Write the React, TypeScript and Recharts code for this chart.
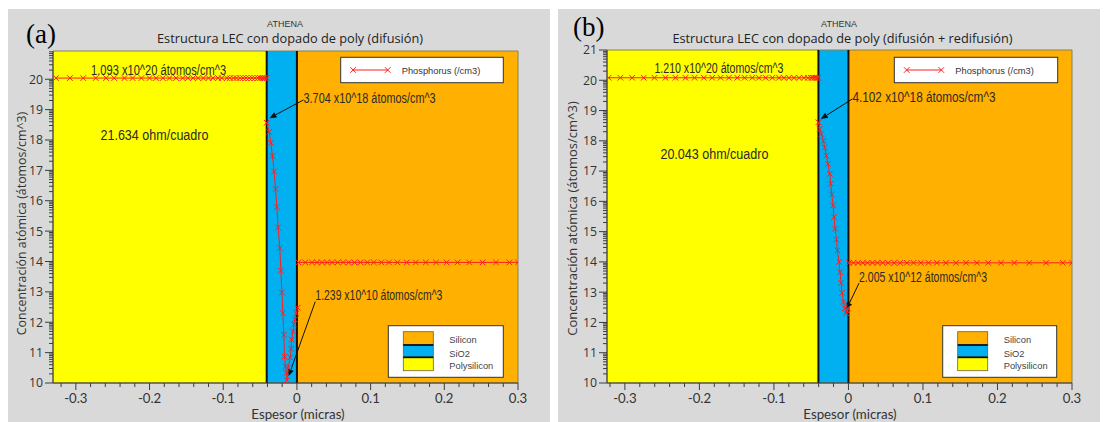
import React from 'react';
import { LineChart, Line, XAxis, YAxis, ReferenceArea, ReferenceLine, ReferenceDot } from 'recharts';

// ---- colours -------------------------------------------------------------
const POLY_COLOR = '#ffff00';
const OXIDE_COLOR = '#00b0f0';
const SILICON_COLOR = '#ffb000';
const DOPANT_COLOR = '#ff1f1f';
const PANEL_BG = '#d9d9d9';
const AXIS_COLOR = '#3c3c3c';
const TEXT_COLOR = '#2a2a2a';

// ---- axis ticks (depth in microns / log10 of concentration) ---------------
const X_MAJOR = [-0.3, -0.2, -0.1, 0, 0.1, 0.2, 0.3];
const X_TICKS = [
  -0.32, -0.3, -0.28, -0.26, -0.24, -0.22, -0.2, -0.18, -0.16, -0.14, -0.12, -0.1, -0.08, -0.06,
  -0.04, -0.02, 0, 0.02, 0.04, 0.06, 0.08, 0.1, 0.12, 0.14, 0.16, 0.18, 0.2, 0.22, 0.24, 0.26, 0.28, 0.3,
];
const Y_MAJOR = [10, 11, 12, 13, 14, 15, 16, 17, 18, 19, 20, 21];
const Y_MINOR_MULTIPLIERS = [2, 3, 4, 5, 6, 7, 8, 9];

// ---- material boundaries (microns) ---------------------------------------
const A_OXIDE_START = -0.041;
const B_OXIDE_START = -0.0403;
const INTERFACE = 0;

// ---- panel (a): difusión -------------------------------------------------
const A_POLY_CONC = 1.093e20;
const A_OXIDE_TOP = 3.704e18;
const A_OXIDE_MIN = 1.239e10;
const A_SHEET = '21.634 ohm/cuadro';

const A_POLY_X = [
  -0.327, -0.308, -0.29, -0.273, -0.259, -0.248, -0.234, -0.223, -0.211, -0.2, -0.191, -0.182, -0.173,
  -0.164, -0.155, -0.148, -0.141, -0.134, -0.127, -0.12, -0.114, -0.107, -0.102, -0.095, -0.091, -0.086,
  -0.082, -0.077, -0.073, -0.069, -0.065, -0.061, -0.057, -0.053, -0.05, -0.047, -0.045, -0.043, -0.041,
];
const A_OXIDE_X = [
  -0.041, -0.0377, -0.0354, -0.0332, -0.031, -0.029, -0.0272, -0.0255, -0.0232, -0.0218, -0.0204, -0.019,
  -0.0177, -0.0169, -0.0155, -0.0142, -0.0136, -0.0119, -0.0091, -0.0078, -0.0071, -0.0054, -0.0044, -0.003,
  -0.001, 0.001,
];
const A_OXIDE_LOG = [
  Math.log10(A_OXIDE_TOP), 18.26, 17.91, 17.48, 16.96, 16.39, 15.79, 15.12, 14.44, 13.7, 12.98, 12.3,
  11.59, 10.87, 10.55, 10.33, Math.log10(A_OXIDE_MIN), 10.51, 10.84, 11.13, 11.43, 11.7, 11.93, 12.09,
  12.29, 12.48,
];
const A_SI_X = [
  0.002, 0.0113, 0.0204, 0.0272, 0.034, 0.0409, 0.0477, 0.0553, 0.0627, 0.0703, 0.0781, 0.0862, 0.0954,
  0.1044, 0.1145, 0.1249, 0.1363, 0.149, 0.1613, 0.1749, 0.1886, 0.203, 0.218, 0.2338, 0.252, 0.2701,
  0.2883, 0.3,
];
const A_SI_LOG = 13.97;

// ---- panel (b): difusión + redifusión ------------------------------------
const B_POLY_CONC = 1.21e20;
const B_OXIDE_TOP = 4.102e18;
const B_OXIDE_MIN = 2.005e12;
const B_SHEET = '20.043 ohm/cuadro';

const B_POLY_X = [
  -0.3218, -0.306, -0.2903, -0.2747, -0.2603, -0.2456, -0.2321, -0.2187, -0.2065, -0.194, -0.1828,
  -0.1716, -0.1604, -0.1492, -0.1393, -0.129, -0.1201, -0.1111, -0.1021, -0.0932, -0.0865, -0.0798,
  -0.073, -0.0663, -0.0596, -0.0542, -0.0505, -0.0484, -0.0462, -0.0439, -0.042, -0.0403,
];
const B_OXIDE_X = [
  -0.0403, -0.0386, -0.0363, -0.0336, -0.0319, -0.0296, -0.0274, -0.0251, -0.0238, -0.0224, -0.0207,
  -0.0194, -0.018, -0.0161, -0.0148, -0.0126, -0.0113, -0.0099, -0.0086, -0.0067, -0.005, -0.003,
  -0.0018, -0.0008,
];
const B_OXIDE_LOG = [
  Math.log10(B_OXIDE_TOP), 18.39, 18.22, 18.0, 17.78, 17.51, 17.24, 16.91, 16.58, 16.23, 15.87, 15.48,
  15.1, 14.74, 14.38, 14.0, 13.66, 13.31, 12.98, 12.68, 12.47, Math.log10(B_OXIDE_MIN), 12.38, 12.47,
];
const B_SI_X = [
  0.0008, 0.0067, 0.0129, 0.0192, 0.0255, 0.0323, 0.039, 0.0457, 0.0532, 0.0613, 0.0694, 0.0784, 0.0874,
  0.0972, 0.1075, 0.1187, 0.1308, 0.1442, 0.1577, 0.1724, 0.1876, 0.2047, 0.2226, 0.2427, 0.2652, 0.2876,
  0.3,
];
const B_SI_LOG = 13.97;

// ---- helpers -------------------------------------------------------------
type Pt = { x: number; y: number };
const toPoints = (xs: number[], ys: number[] | number): Pt[] =>
  xs.map((x, i) => ({ x, y: Array.isArray(ys) ? ys[i] : ys }));

const concLabel = (v: number) => {
  const exp = Math.floor(Math.log10(v));
  const mant = v / Math.pow(10, exp);
  return `${mant.toFixed(3)} x10^${exp} átomos/cm^3`;
};

const yTicksFor = (top: number) => {
  const out: number[] = [];
  Y_MAJOR.forEach((d) => {
    if (d <= top + 1e-9) out.push(d);
    Y_MINOR_MULTIPLIERS.forEach((k) => {
      const v = d + Math.log10(k);
      if (v < top) out.push(v);
    });
  });
  return out.sort((a, b) => a - b);
};

const crossDot = (p: any) => {
  const { cx, cy, index } = p;
  if (cx == null || cy == null) return <g key={`m${index}`} />;
  const s = 2.8;
  return (
    <path
      key={`m${index}`}
      d={`M${cx - s},${cy - s}L${cx + s},${cy + s}M${cx - s},${cy + s}L${cx + s},${cy - s}`}
      stroke={DOPANT_COLOR}
      strokeWidth={1}
      fill="none"
    />
  );
};

const arrowShape = (p: any) => {
  const { x1, y1, x2, y2 } = p;
  const ang = Math.atan2(y2 - y1, x2 - x1);
  const L = 7;
  const W = 3;
  const bx = x2 - L * Math.cos(ang);
  const by = y2 - L * Math.sin(ang);
  const pts = `${x2},${y2} ${bx - W * Math.sin(ang)},${by + W * Math.cos(ang)} ${bx + W * Math.sin(ang)},${by - W * Math.cos(ang)}`;
  return (
    <g>
      <line x1={x1} y1={y1} x2={bx} y2={by} stroke="#111" strokeWidth={1} />
      <polygon points={pts} fill="#111" />
    </g>
  );
};

const noteShape = (text: string, len: number) => (p: any) => (
  <text
    x={p.cx}
    y={p.cy}
    dy={5}
    fontFamily="'Liberation Sans', Arial, sans-serif"
    fontSize={14}
    fill={TEXT_COLOR}
    textLength={len}
    lengthAdjust="spacingAndGlyphs"
  >
    {text}
  </text>
);

const xTick = (p: any) => {
  const v = p.payload.value;
  const major = X_MAJOR.some((m) => Math.abs(m - v) < 1e-9);
  return (
    <g>
      <line x1={p.x} x2={p.x} y1={p.y} y2={p.y + (major ? 7 : 4)} stroke={AXIS_COLOR} />
      {major && (
        <text x={p.x} y={p.y + 20} textAnchor="middle" fontFamily="Lato, sans-serif" fontSize={13.2} fill="#333">
          {String(v)}
        </text>
      )}
    </g>
  );
};

const yTick = (p: any) => {
  const v = p.payload.value;
  const major = Math.abs(v - Math.round(v)) < 1e-9;
  return (
    <g>
      <line x1={p.x} x2={p.x - (major ? 8 : 4)} y1={p.y} y2={p.y} stroke={AXIS_COLOR} />
      {major && (
        <text x={p.x - 10} y={p.y} dy={4.4} textAnchor="end" fontFamily="'Open Sans', sans-serif" fontSize={12.3} fill="#333">
          {String(Math.round(v))}
        </text>
      )}
    </g>
  );
};

type Note = { x: number; y: number; text: string; len: number };
type Arrow = { from: Pt; to: Pt };

type PanelCfg = {
  left: number;
  width: number;
  top: number;
  right: number;
  yAxisWidth: number;
  xDomain: [number, number];
  yDomain: [number, number];
  oxideStart: number;
  poly: Pt[];
  oxide: Pt[];
  silicon: Pt[];
  notes: Note[];
  arrows: Arrow[];
};

function ProfilePanel({ cfg }: { cfg: PanelCfg }) {
  const [x0, x1] = cfg.xDomain;
  return (
    <div style={{ position: 'absolute', left: cfg.left, top: 0 }}>
      <LineChart width={cfg.width} height={422} margin={{ top: cfg.top, right: cfg.right, bottom: 9, left: 0 }}>
        <XAxis
          type="number"
          dataKey="x"
          domain={cfg.xDomain}
          allowDataOverflow
          ticks={X_TICKS}
          interval={0}
          tickLine={false}
          tickSize={0}
          tickMargin={0}
          axisLine={{ stroke: AXIS_COLOR }}
          tick={xTick}
          height={30}
        />
        <YAxis
          type="number"
          dataKey="y"
          domain={cfg.yDomain}
          allowDataOverflow
          ticks={yTicksFor(cfg.yDomain[1])}
          interval={0}
          tickLine={false}
          tickSize={0}
          tickMargin={0}
          axisLine={{ stroke: AXIS_COLOR }}
          tick={yTick}
          width={cfg.yAxisWidth}
        />
        <ReferenceArea x1={x0} x2={cfg.oxideStart} fill={POLY_COLOR} fillOpacity={1} stroke="none" />
        <ReferenceArea x1={cfg.oxideStart} x2={INTERFACE} fill={OXIDE_COLOR} fillOpacity={1} stroke="none" />
        <ReferenceArea x1={INTERFACE} x2={x1} fill={SILICON_COLOR} fillOpacity={1} stroke="none" />
        <ReferenceArea x1={x0} x2={x1} fill="none" fillOpacity={0} stroke="#8a8050" strokeWidth={1} />
        <ReferenceLine x={cfg.oxideStart} stroke="#111" strokeWidth={2} />
        <ReferenceLine x={INTERFACE} stroke="#111" strokeWidth={2} />
        <Line data={cfg.poly} dataKey="y" stroke={DOPANT_COLOR} strokeWidth={1} dot={crossDot} isAnimationActive={false} />
        <Line data={cfg.oxide} dataKey="y" stroke={DOPANT_COLOR} strokeWidth={1} dot={crossDot} isAnimationActive={false} />
        <Line data={cfg.silicon} dataKey="y" stroke={DOPANT_COLOR} strokeWidth={1} dot={crossDot} isAnimationActive={false} />
        {cfg.arrows.map((a, i) => (
          <ReferenceLine key={`a${i}`} segment={[a.from, a.to]} shape={arrowShape} />
        ))}
        {cfg.notes.map((n, i) => (
          <ReferenceDot key={`n${i}`} x={n.x} y={n.y} r={0} shape={noteShape(n.text, n.len)} />
        ))}
      </LineChart>
    </div>
  );
}

const PANEL_A: PanelCfg = {
  left: 0,
  width: 552,
  top: 51,
  right: 34,
  yAxisWidth: 53,
  xDomain: [-0.331, 0.3],
  yDomain: [10, 20.93],
  oxideStart: A_OXIDE_START,
  poly: toPoints(A_POLY_X, Math.log10(A_POLY_CONC)),
  oxide: toPoints(A_OXIDE_X, A_OXIDE_LOG),
  silicon: toPoints(A_SI_X, A_SI_LOG),
  notes: [
    { x: -0.2793, y: 20.31, text: concLabel(A_POLY_CONC), len: 135 },
    { x: -0.2666, y: 18.17, text: A_SHEET, len: 108 },
    { x: 0.009, y: 19.385, text: concLabel(A_OXIDE_TOP), len: 132 },
    { x: 0.025, y: 12.905, text: concLabel(A_OXIDE_MIN), len: 127 },
  ],
  arrows: [
    { from: { x: 0.009, y: 19.32 }, to: { x: -0.0373, y: 18.72 } },
    { from: { x: 0.0249, y: 12.68 }, to: { x: -0.0114, y: 10.22 } },
  ],
};

const PANEL_B: PanelCfg = {
  left: 552,
  width: 548,
  top: 50,
  right: 28,
  yAxisWidth: 55,
  xDomain: [-0.324, 0.3],
  yDomain: [10, 21],
  oxideStart: B_OXIDE_START,
  poly: toPoints(B_POLY_X, Math.log10(B_POLY_CONC)),
  oxide: toPoints(B_OXIDE_X, B_OXIDE_LOG),
  silicon: toPoints(B_SI_X, B_SI_LOG),
  notes: [
    { x: -0.2604, y: 20.414, text: concLabel(B_POLY_CONC), len: 129 },
    { x: -0.2523, y: 17.576, text: B_SHEET, len: 108 },
    { x: 0.0054, y: 19.451, text: concLabel(B_OXIDE_TOP), len: 143 },
    { x: 0.0142, y: 13.507, text: concLabel(B_OXIDE_MIN), len: 128 },
  ],
  arrows: [
    { from: { x: 0.0054, y: 19.385 }, to: { x: -0.0372, y: 18.72 } },
    { from: { x: 0.0142, y: 13.3 }, to: { x: -0.0027, y: 12.43 } },
  ],
};

const SANS = "'Liberation Sans', Arial, sans-serif";
const OPEN = "'Open Sans', sans-serif";
const LATO = 'Lato, sans-serif';

function DopantLegend({ x, y, w }: { x: number; y: number; w: number }) {
  const ly = y + 12.7;
  const lx0 = x + 12.4;
  const lx1 = x + 47;
  const s = 2.8;
  const cross = (cx: number) => `M${cx - s},${ly - s}L${cx + s},${ly + s}M${cx - s},${ly + s}L${cx + s},${ly - s}`;
  return (
    <g>
      <rect x={x} y={y} width={w} height={25.4} fill="#fff" stroke="#333" strokeWidth={1} />
      <line x1={lx0} x2={lx1} y1={ly} y2={ly} stroke={DOPANT_COLOR} />
      <path d={cross(lx0) + cross(lx1)} stroke={DOPANT_COLOR} fill="none" />
      <text x={x + 61} y={y + 16.3} fontFamily={SANS} fontSize={9.3} fill="#333">
        Phosphorus (/cm3)
      </text>
    </g>
  );
}

function MaterialLegend({ x, y, w }: { x: number; y: number; w: number }) {
  const sx = x + 15;
  const rows = [
    { name: 'Silicon', color: SILICON_COLOR, y0: 6, h: 13.3, ty: 17.3 },
    { name: 'SiO2', color: OXIDE_COLOR, y0: 19.3, h: 12.3, ty: 30.8 },
    { name: 'Polysilicon', color: POLY_COLOR, y0: 31.6, h: 13.4, ty: 43.3 },
  ];
  return (
    <g>
      <rect x={x} y={y} width={w} height={51.6} fill="#fff" stroke="#333" strokeWidth={1} />
      {rows.map((r) => (
        <g key={r.name}>
          <rect x={sx} y={y + r.y0} width={30} height={r.h} fill={r.color} stroke="#6b6040" strokeWidth={0.8} />
          <text x={x + 61} y={y + r.ty} fontFamily={SANS} fontSize={9.3} fill="#444">
            {r.name}
          </text>
        </g>
      ))}
      <line x1={sx} x2={sx + 30} y1={y + 19.3} y2={y + 19.3} stroke="#111" strokeWidth={1.8} />
      <line x1={sx} x2={sx + 30} y1={y + 31.6} y2={y + 31.6} stroke="#111" strokeWidth={1.8} />
    </g>
  );
}

function Decorations() {
  return (
    <svg width={1107} height={422} style={{ position: 'absolute', left: 0, top: 0, pointerEvents: 'none' }}>
      {/* panel letters */}
      <text x={26} y={43} fontFamily="'Liberation Serif', 'Times New Roman', serif" fontSize={27} fill="#000">
        (a)
      </text>
      <text x={573} y={36} fontFamily="'Liberation Serif', 'Times New Roman', serif" fontSize={27} fill="#000">
        (b)
      </text>

      {/* titles */}
      <text x={285} y={27} textAnchor="middle" fontFamily={SANS} fontSize={9} fill="#333">
        ATHENA
      </text>
      <text x={290} y={42.5} textAnchor="middle" fontFamily={OPEN} fontSize={12.75} fill="#222">
        Estructura LEC con dopado de poly (difusión)
      </text>
      <text x={839} y={27} textAnchor="middle" fontFamily={SANS} fontSize={9} fill="#333">
        ATHENA
      </text>
      <text x={842.5} y={42.5} textAnchor="middle" fontFamily={OPEN} fontSize={12.75} fill="#222">
        Estructura LEC con dopado de poly (difusión + redifusión)
      </text>

      {/* axis titles */}
      <text
        x={21.7}
        y={223.5}
        transform="rotate(-90 21.7 223.5)"
        textAnchor="middle"
        dominantBaseline="central"
        fontFamily={OPEN}
        fontSize={12.4}
        fill="#333"
      >
        Concentración atómica (átomos/cm^3)
      </text>
      <text
        x={572}
        y={218.5}
        transform="rotate(-90 572 218.5)"
        textAnchor="middle"
        dominantBaseline="central"
        fontFamily={OPEN}
        fontSize={13}
        fill="#333"
      >
        Concentración atómica (átomos/cm^3)
      </text>
      <text x={298} y={419} textAnchor="middle" fontFamily={LATO} fontSize={13.3} fill="#333">
        Espesor (micras)
      </text>
      <text x={850} y={419} textAnchor="middle" fontFamily={LATO} fontSize={13.3} fill="#333">
        Espesor (micras)
      </text>

      {/* legends */}
      <DopantLegend x={340.7} y={57.3} w={162.6} />
      <DopantLegend x={894.3} y={57.3} w={163.4} />
      <MaterialLegend x={388.3} y={325.7} w={115} />
      <MaterialLegend x={942.7} y={325.7} w={114} />
    </svg>
  );
}

export default function App() {
  return (
    <div style={{ position: 'absolute', left: 0, top: 0, width: 1107, height: 422, background: '#fff', overflow: 'hidden' }}>
      <div style={{ position: 'absolute', left: 8, top: 9, width: 542, height: 413, background: PANEL_BG }} />
      <div style={{ position: 'absolute', left: 558, top: 9, width: 542, height: 413, background: PANEL_BG }} />
      <ProfilePanel cfg={PANEL_A} />
      <ProfilePanel cfg={PANEL_B} />
      <Decorations />
    </div>
  );
}
